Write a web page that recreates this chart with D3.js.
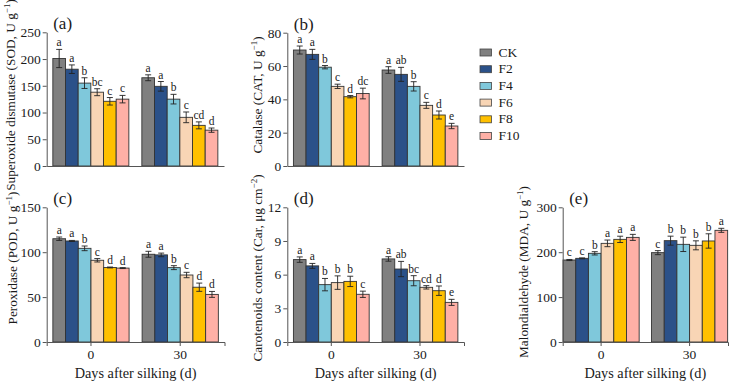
<!DOCTYPE html>
<html>
<head>
<meta charset="utf-8">
<script src="https://cdn.jsdelivr.net/npm/d3@7"></script>
<style>
  body { margin: 0; background: #fff; }
  svg { display: block; font-family: "Liberation Serif", "Times New Roman", serif; }
</style>
</head>
<body>
<div id="chart"></div>
<script>
// Groups and treatments
const days = ['0', '30'];
const treatments = ['CK', 'F2', 'F4', 'F6', 'F8', 'F10'];
const barColors = ['#808080', '#2b5189', '#7fc8db', '#f8d5b5', '#ffc000', '#ffb0a6'];

// (a) SOD
const sodMean = [[201, 181, 155, 138, 121, 125], [165, 149, 125, 91, 76, 67]];
const sodErr = [[17, 8, 10, 6.5, 7, 7], [5.5, 9, 9, 10, 6.5, 4]];
const sodLetters = [['a', 'a', 'b', 'bc', 'c', 'c'], ['a', 'a', 'b', 'c', 'cd', 'd']];
const sodTicks = [0, 50, 100, 150, 200, 250];

// (b) CAT
const catMean = [[69.6, 67, 59.3, 47.8, 41.6, 43.5], [57.6, 55, 47.8, 36.4, 30.6, 24]];
const catErr = [[2.4, 3, 1, 1.3, 0.7, 3.2], [2, 4.2, 2.8, 1.8, 2.4, 1.6]];
const catLetters = [['a', 'a', 'b', 'c', 'd', 'dc'], ['a', 'ab', 'b', 'c', 'd', 'e']];
const catTicks = [0, 20, 40, 60, 80];

// (c) POD
const podMean = [[115, 112.5, 104.3, 91, 83, 82.3], [97.7, 97, 82.8, 74.6, 61, 53]];
const podErr = [[1.9, 0.6, 2.6, 1.9, 0.5, 0.5], [3.3, 2, 2.2, 3, 4.6, 3.3]];
const podLetters = [['a', 'a', 'b', 'c', 'd', 'd'], ['a', 'a', 'b', 'c', 'd', 'd']];
const podTicks = [0, 50, 100, 150];

// (d) Car
const carMean = [[7.34, 6.78, 5.11, 5.29, 5.4, 4.25], [7.4, 6.5, 5.46, 4.87, 4.57, 3.53]];
const carErr = [[0.24, 0.22, 0.55, 0.6, 0.46, 0.28], [0.2, 0.68, 0.45, 0.15, 0.42, 0.27]];
const carLetters = [['a', 'a', 'b', 'b', 'b', 'c'], ['a', 'ab', 'bc', 'cd', 'd', 'e']];
const carTicks = [0, 3, 6, 9, 12];

// (e) MDA
const mdaMean = [[182.6, 186.3, 197.5, 219.7, 228.6, 233], [199, 225.7, 217.5, 215.3, 225, 248.7]];
const mdaErr = [[1.2, 1, 3.7, 7.4, 7, 6.7], [4.5, 10, 16, 10, 16, 4.5]];
const mdaLetters = [['c', 'c', 'b', 'a', 'a', 'a'], ['c', 'b', 'b', 'b', 'b', 'a']];
const mdaTicks = [0, 100, 200, 300];

const width = 739, height = 383;
const svg = d3.select('#chart').append('svg')
  .attr('width', width)
  .attr('height', height);

const panels = [
  { tag: '(a)', mean: sodMean, err: sodErr, letters: sodLetters, ticks: sodTicks,
    label: 'Superoxide dismutase (SOD, U g', sup: '\u22121',
    x0: 46.7, x1: 224, yBase: 166, yTop: 32.3, labelX: 10, labelY: 95, pIn: 0.146, pOut: 0.069, bottom: false },
  { tag: '(b)', mean: catMean, err: catErr, letters: catLetters, ticks: catTicks,
    label: 'Catalase (CAT, U g', sup: '\u22121',
    x0: 287.3, x1: 464, yBase: 166, yTop: 32.7, labelX: 257, labelY: 95, pIn: 0.146, pOut: 0.069, bottom: false },
  { tag: '(c)', mean: podMean, err: podErr, letters: podLetters, ticks: podTicks,
    label: 'Peroxidase (POD, U g', sup: '\u22121',
    x0: 46.7, x1: 224.5, yBase: 342, yTop: 207.3, labelX: 12, labelY: 258, pIn: 0.146, pOut: 0.069, bottom: true },
  { tag: '(d)', mean: carMean, err: carErr, letters: carLetters, ticks: carTicks,
    label: 'Carotenoids content (Car, \u03bcg cm', sup: '\u22122',
    x0: 287.3, x1: 464, yBase: 342, yTop: 207.3, labelX: 257, labelY: 268, pIn: 0.146, pOut: 0.069, bottom: true },
  { tag: '(e)', mean: mdaMean, err: mdaErr, letters: mdaLetters, ticks: mdaTicks,
    label: 'Malondialdehyde (MDA, U g', sup: '\u22121',
    x0: 562.7, x1: 728, yBase: 342, yTop: 207.3, labelX: 523, labelY: 272, pIn: 0.14, pOut: 0.004, bottom: true }
];

const axisColor = '#555';
const textColor = '#1a1a1a';

panels.forEach(p => drawPanel(p));
drawLegend();

function drawPanel(p) {
  const g = svg.append('g');
  const maxV = p.ticks[p.ticks.length - 1];

  const y = d3.scaleLinear().domain([0, maxV]).range([p.yBase, p.yTop]);
  const xGroup = d3.scaleBand().domain(days).range([p.x0, p.x1])
    .paddingInner(p.pIn).paddingOuter(p.pOut);
  const xBar = d3.scaleBand().domain(treatments).range([0, xGroup.bandwidth()]).padding(0);

  // bars
  days.forEach((day, di) => {
    const gg = g.append('g').attr('transform', `translate(${xGroup(day)},0)`);
    const rows = treatments.map((t, ti) => ({
      t, color: barColors[ti], v: p.mean[di][ti], e: p.err[di][ti], l: p.letters[di][ti]
    }));

    gg.selectAll('rect').data(rows).enter().append('rect')
      .attr('x', d => xBar(d.t))
      .attr('y', d => y(d.v))
      .attr('width', xBar.bandwidth())
      .attr('height', d => y(0) - y(d.v))
      .attr('fill', d => d.color)
      .attr('stroke', '#333')
      .attr('stroke-width', 0.9);

    // error bars
    const cap = 3;
    const eb = gg.selectAll('.err').data(rows).enter().append('g').attr('class', 'err')
      .attr('stroke', '#222').attr('stroke-width', 0.9);
    eb.append('line')
      .attr('x1', d => xBar(d.t) + xBar.bandwidth() / 2)
      .attr('x2', d => xBar(d.t) + xBar.bandwidth() / 2)
      .attr('y1', d => y(d.v + d.e))
      .attr('y2', d => y(d.v - d.e));
    eb.append('line')
      .attr('x1', d => xBar(d.t) + xBar.bandwidth() / 2 - cap)
      .attr('x2', d => xBar(d.t) + xBar.bandwidth() / 2 + cap)
      .attr('y1', d => y(d.v + d.e))
      .attr('y2', d => y(d.v + d.e));
    eb.append('line')
      .attr('x1', d => xBar(d.t) + xBar.bandwidth() / 2 - cap)
      .attr('x2', d => xBar(d.t) + xBar.bandwidth() / 2 + cap)
      .attr('y1', d => y(d.v - d.e))
      .attr('y2', d => y(d.v - d.e));

    // significance letters
    gg.selectAll('.sig').data(rows).enter().append('text')
      .attr('class', 'sig')
      .attr('x', d => xBar(d.t) + xBar.bandwidth() / 2)
      .attr('y', d => y(d.v + d.e) - 3)
      .attr('text-anchor', 'middle')
      .attr('font-size', '11.5px')
      .attr('fill', textColor)
      .text(d => d.l);
  });

  // y axis
  const yAxis = d3.axisLeft(y).tickValues(p.ticks).tickSize(4).tickSizeOuter(0).tickPadding(2);
  g.append('g')
    .attr('transform', `translate(${p.x0},0)`)
    .call(yAxis)
    .call(a => a.selectAll('path, line').attr('stroke', axisColor))
    .call(a => a.selectAll('text').attr('fill', textColor)
      .attr('font-size', '13.5px').attr('font-family', '"Liberation Serif", serif'));

  // x axis
  const xAxis = d3.axisBottom(xGroup).tickSizeOuter(0).tickSize(p.bottom ? 4 : 0).tickPadding(3);
  if (!p.bottom) xAxis.tickFormat('');
  g.append('g')
    .attr('transform', `translate(0,${p.yBase})`)
    .call(xAxis)
    .call(a => a.selectAll('path, line').attr('stroke', axisColor))
    .call(a => a.selectAll('text').attr('fill', textColor)
      .attr('font-size', '13.5px').attr('font-family', '"Liberation Serif", serif'));

  if (p.bottom) {
    g.append('text')
      .attr('x', (p.x0 + p.x1) / 2)
      .attr('y', 377.5)
      .attr('text-anchor', 'middle')
      .attr('font-size', '14.3px')
      .attr('fill', textColor)
      .text('Days after silking (d)');
  }

  // panel tag
  g.append('text')
    .attr('x', p.x0 + 6.5)
    .attr('y', p.yTop - 3)
    .attr('font-size', '17px')
    .attr('fill', textColor)
    .text(p.tag);

  // y label with superscript
  const lab = g.append('text')
    .attr('transform', `translate(${p.labelX + 5},${p.labelY}) rotate(-90)`)
    .attr('text-anchor', 'middle')
    .attr('font-size', '13.3px')
    .attr('fill', textColor);
  lab.append('tspan').text(p.label);
  lab.append('tspan').attr('font-size', '9px').attr('dy', -5).text(p.sup);
  lab.append('tspan').attr('dy', 5).text(')');
}

function drawLegend() {
  const lg = svg.append('g').attr('transform', 'translate(480,49)');
  const item = lg.selectAll('g').data(treatments).enter().append('g')
    .attr('transform', (d, i) => `translate(0,${i * 16.7})`);
  item.append('rect')
    .attr('width', 11.5)
    .attr('height', 7)
    .attr('fill', (d, i) => barColors[i])
    .attr('stroke', '#444')
    .attr('stroke-width', 0.8);
  item.append('text')
    .attr('x', 18.5)
    .attr('y', 7.5)
    .attr('font-size', '13.5px')
    .attr('fill', textColor)
    .text(d => d);
}
</script>
</body>
</html>
